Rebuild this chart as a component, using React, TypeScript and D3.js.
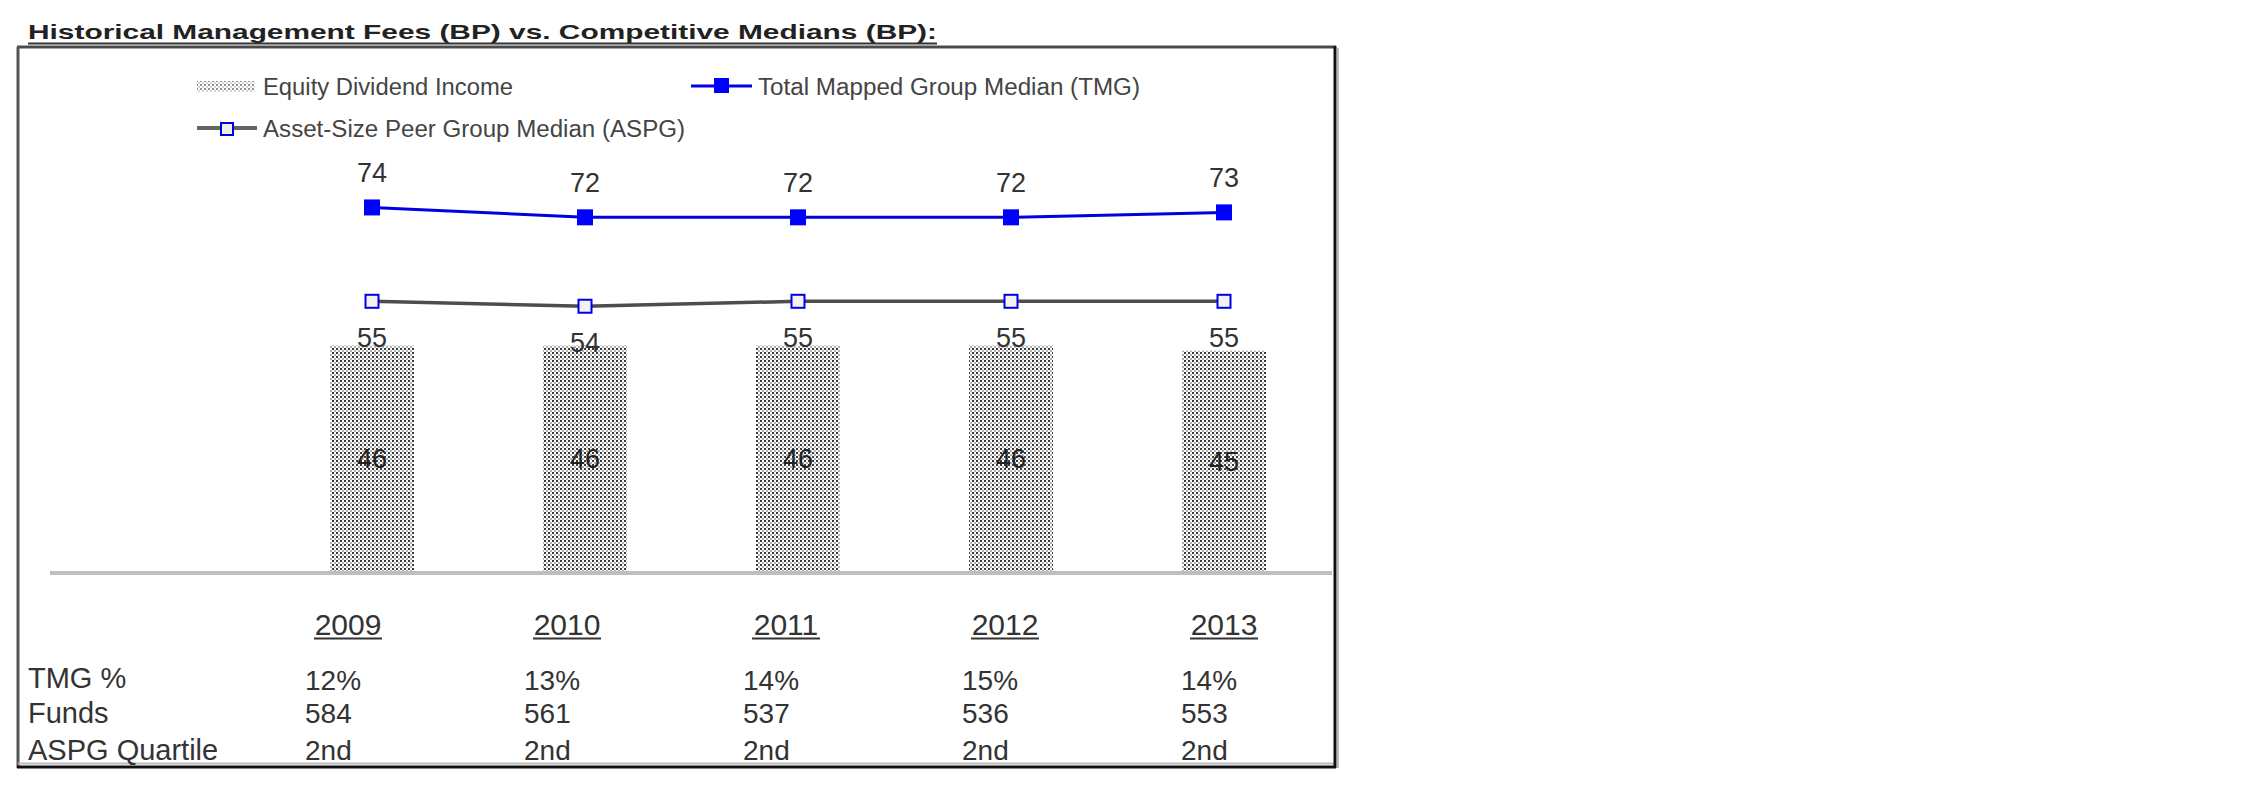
import React from 'react';
import * as d3 from 'd3';

const years = ['2009', '2010', '2011', '2012', '2013'];
const equityDividendIncome = [46, 46, 46, 46, 45];
const tmgMedian = [74, 72, 72, 72, 73];
const aspgMedian = [55, 54, 55, 55, 55];

const rowLabels = ['TMG %', 'Funds', 'ASPG Quartile'];
const tmgPct = ['12%', '13%', '14%', '15%', '14%'];
const funds = ['584', '561', '537', '536', '553'];
const aspgQuartile = ['2nd', '2nd', '2nd', '2nd', '2nd'];

const W = 2250;
const H = 796;
const font = 'Liberation Sans, Arial, sans-serif';
const textColor = '#333';

const App: React.FC = () => {
    const x = d3.scalePoint<string>().domain(years).range([372, 1224]);
    const y = d3.scaleLinear().domain([0, 80]).range([573, 177.8]);
    const tableX = d3.scalePoint<string>().domain(years).range([305, 1181]);
    const barW = 84;

    const line = d3.line<number>()
        .x((_, i) => x(years[i]) as number)
        .y(d => y(d));

    const tableRows = [tmgPct, funds, aspgQuartile];
    const rowY = [690, 723, 760];
    const labelY = [688, 723, 760];

    return (
        <svg width={W} height={H} style={{position: 'absolute', left: 0, top: 0, background: '#fff'}}>
            <defs>
                <pattern id="dots" patternUnits="userSpaceOnUse" width={4} height={4}>
                    <rect width={4} height={4} fill="#fff"/>
                    <rect x={0} y={0} width={2} height={2} fill="#3a3a3a"/>
                    <rect x={2} y={2} width={2} height={2} fill="#b0b0b0"/>
                </pattern>
            </defs>

            {/* title */}
            <text x={28} y={39} fontFamily={font} fontWeight="bold" fontSize={21}
                  fill="#222" textLength={909} lengthAdjust="spacingAndGlyphs">
                Historical Management Fees (BP) vs. Competitive Medians (BP):
            </text>
            <line x1={28} x2={937} y1={43.5} y2={43.5} stroke="#333" strokeWidth={2}/>

            {/* frame */}
            <line x1={17} x2={1336} y1={47} y2={47} stroke="#4a4a4a" strokeWidth={3}/>
            <line x1={18} x2={18} y1={47} y2={768} stroke="#555" strokeWidth={3}/>
            <line x1={18} x2={1335} y1={763.5} y2={763.5} stroke="#bbb" strokeWidth={2}/>
            <line x1={17} x2={1336} y1={767} y2={767} stroke="#111" strokeWidth={3}/>
            <line x1={1335} x2={1335} y1={46} y2={768} stroke="#111" strokeWidth={3}/>
            <line x1={1338} x2={1338} y1={48} y2={768} stroke="#bbb" strokeWidth={2}/>

            {/* legend */}
            <g fontFamily={font} fontSize={23} fill="#444">
                <rect x={197} y={81} width={58} height={11} fill="url(#dots)" opacity={0.55}/>
                <text x={263} y={87} dominantBaseline="central" textLength={250} lengthAdjust="spacingAndGlyphs">
                    Equity Dividend Income
                </text>
                <line x1={691} x2={752} y1={86} y2={86} stroke="#0000e6" strokeWidth={3}/>
                <rect x={714} y={78} width={15} height={15} fill="#0000ff"/>
                <text x={758} y={87} dominantBaseline="central" textLength={382} lengthAdjust="spacingAndGlyphs">
                    Total Mapped Group Median (TMG)
                </text>
                <line x1={197} x2={257} y1={128} y2={128} stroke="#666" strokeWidth={4}/>
                <rect x={221} y={123} width={12} height={12} fill="#eee" stroke="#0000e6" strokeWidth={2}/>
                <text x={263} y={129} dominantBaseline="central" textLength={422} lengthAdjust="spacingAndGlyphs">
                    Asset-Size Peer Group Median (ASPG)
                </text>
            </g>

            {/* bars */}
            {equityDividendIncome.map((v, i) => (
                <rect key={'b' + i} x={(x(years[i]) as number) - barW / 2} y={y(v)} width={barW}
                      height={y(0) - y(v)} fill="url(#dots)"/>
            ))}
            <line x1={50} x2={1332} y1={573} y2={573} stroke="#bfbfbf" strokeWidth={4}/>
            {equityDividendIncome.map((v, i) => (
                <text key={'bl' + i} x={x(years[i])} y={(y(v) + y(0)) / 2 + 9} textAnchor="middle"
                      fontFamily={font} fontSize={27} fill="#222">{v}</text>
            ))}

            {/* ASPG line */}
            <path d={line(aspgMedian) || ''} fill="none" stroke="#4d4d4d" strokeWidth={3.5}/>
            {aspgMedian.map((v, i) => (
                <rect key={'am' + i} x={(x(years[i]) as number) - 6.5} y={y(v) - 6.5} width={13} height={13}
                      fill="#f2f2f2" stroke="#0000e6" strokeWidth={2}/>
            ))}
            {aspgMedian.map((v, i) => (
                <text key={'al' + i} x={x(years[i])} y={y(v) + 46} textAnchor="middle"
                      fontFamily={font} fontSize={27} fill={textColor}>{v}</text>
            ))}

            {/* TMG line */}
            <path d={line(tmgMedian) || ''} fill="none" stroke="#0000e0" strokeWidth={3}/>
            {tmgMedian.map((v, i) => (
                <rect key={'tm' + i} x={(x(years[i]) as number) - 8} y={y(v) - 8} width={16} height={16}
                      fill="#0000ff"/>
            ))}
            {tmgMedian.map((v, i) => (
                <text key={'tl' + i} x={x(years[i])} y={y(v) - 25} textAnchor="middle"
                      fontFamily={font} fontSize={27} fill={textColor}>{v}</text>
            ))}

            {/* table */}
            <g fontFamily={font} fill={textColor}>
                {years.map(yr => {
                    const cx = (tableX(yr) as number) + 43;
                    return (
                        <g key={'y' + yr}>
                            <text x={cx} y={635} textAnchor="middle" fontSize={30}>{yr}</text>
                            <line x1={cx - 34} x2={cx + 34} y1={638.5} y2={638.5} stroke="#333" strokeWidth={2}/>
                        </g>
                    );
                })}
                {rowLabels.map((lab, r) => (
                    <text key={'rl' + r} x={28} y={labelY[r]} fontSize={29}>{lab}</text>
                ))}
                {tableRows.map((row, r) => row.map((val, i) => (
                    <text key={'c' + r + '-' + i} x={tableX(years[i])} y={rowY[r]} fontSize={28}>{val}</text>
                )))}
            </g>
        </svg>
    );
};

export default App;
